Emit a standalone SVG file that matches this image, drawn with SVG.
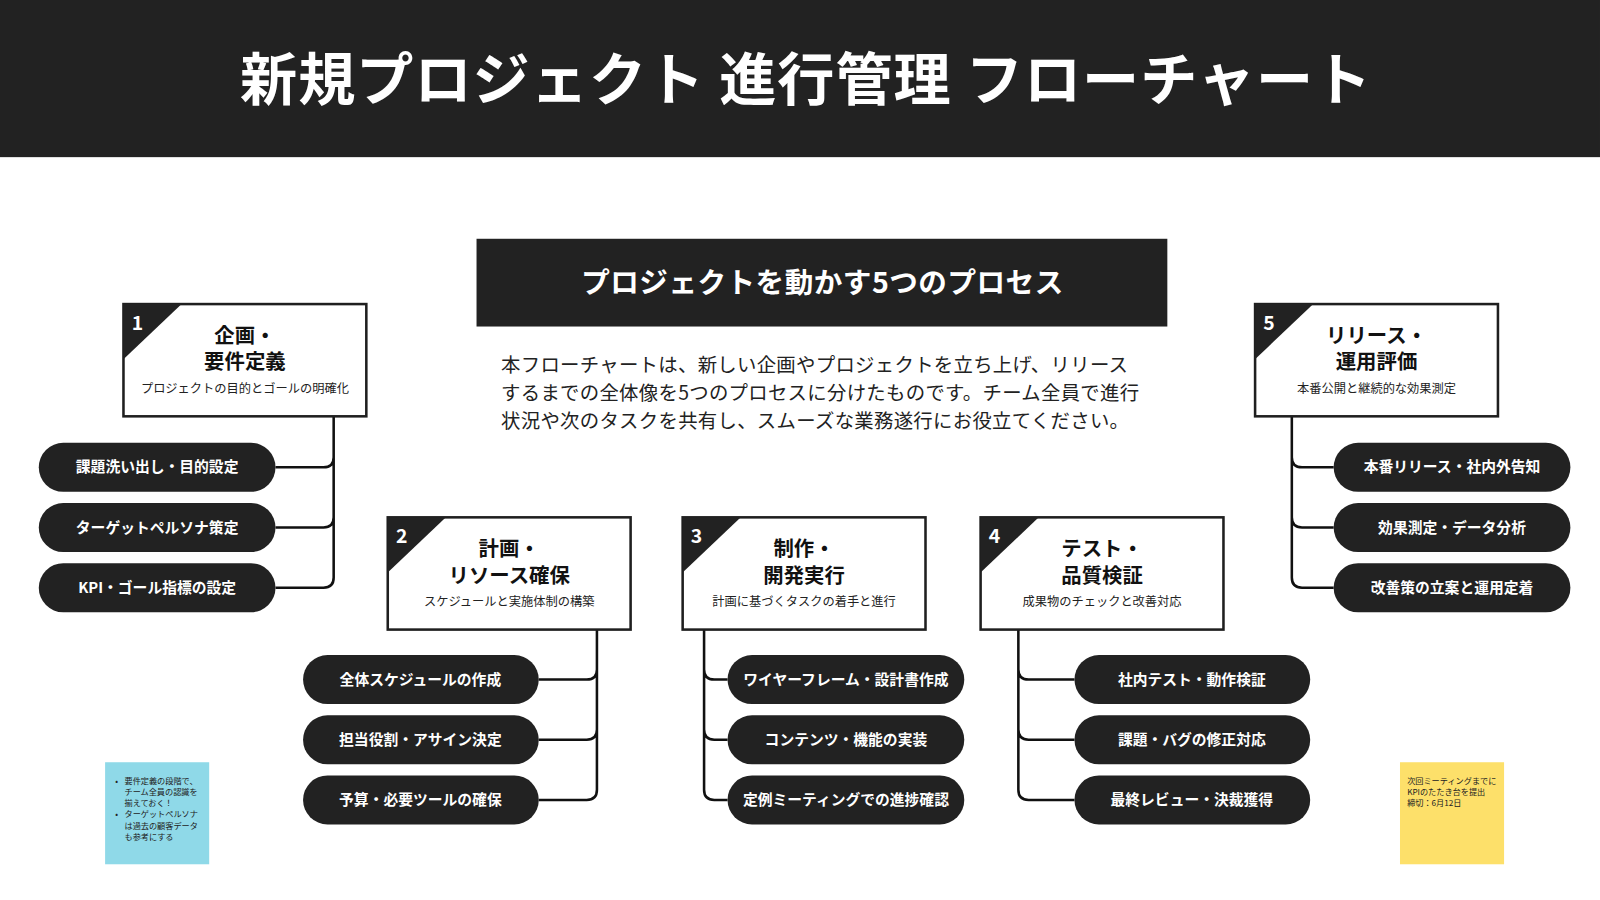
<svg xmlns="http://www.w3.org/2000/svg" width="1600" height="900" viewBox="0 0 1600 900">
<style>
text{font-family:"Noto Sans CJK JP","Noto Sans",sans-serif}
.box{fill:#fff;stroke:#1f1f1f;stroke-width:2.5}
.tri{fill:#222}
.num{fill:#fff;font-size:19px;font-weight:700}
.tt{fill:#111;font-size:20px;font-weight:700;text-anchor:middle}
.st{fill:#222;font-size:12px;text-anchor:middle}
.pill{fill:#222}
.pt{fill:#fff;font-size:14.5px;font-weight:700;text-anchor:middle}
.con path{fill:none;stroke:#111;stroke-width:2.5}
.note{font-size:8px;fill:#222}
</style>
<rect width="1600" height="900" fill="#fff"/>
<g transform="scale(1.0204)">
<g id="header"><rect x="0" y="0" width="1568" height="154" fill="#222"/>
<text x="790" y="98" text-anchor="middle" font-size="56" font-weight="700" letter-spacing="1" fill="#fff">新規プロジェクト 進行管理 フローチャート</text></g>
<g id="banner"><rect x="467" y="234" width="677" height="86" fill="#222"/>
<text x="806" y="287" text-anchor="middle" font-size="28" font-weight="700" letter-spacing="0.5" fill="#fff">プロジェクトを動かす5つのプロセス</text></g>
<g id="desc" font-size="19" letter-spacing="0.3" fill="#222">
<text x="491" y="365">本フローチャートは、新しい企画やプロジェクトを立ち上げ、リリース</text>
<text x="491" y="392">するまでの全体像を5つのプロセスに分けたものです。チーム全員で進行</text>
<text x="491" y="419">状況や次のタスクを共有し、スムーズな業務遂行にお役立てください。</text></g>
<g class="con" id="connectors">
<path d="M327 408V448Q327 458 317 458H270M327 448V507Q327 517 317 517H270M327 507V566Q327 576 317 576H270"/>
<path d="M585 617V656Q585 666 575 666H528M585 656V715Q585 725 575 725H528M585 715V774Q585 784 575 784H528"/>
<path d="M690 617V656Q690 666 700 666H713M690 656V715Q690 725 700 725H713M690 715V774Q690 784 700 784H713"/>
<path d="M998 617V656Q998 666 1008 666H1053M998 656V715Q998 725 1008 725H1053M998 715V774Q998 784 1008 784H1053"/>
<path d="M1266 408V448Q1266 458 1276 458H1307M1266 448V507Q1266 517 1276 517H1307M1266 507V566Q1266 576 1276 576H1307"/>
</g>
<g id="node1"><rect class="box" x="121" y="298" width="238" height="110"/><path class="tri" d="M121 298H178L121 352Z"/><text class="num" x="129" y="323">1</text>
<text class="tt" x="240" y="336">企画・</text><text class="tt" x="240" y="362">要件定義</text><text class="st" x="240" y="385">プロジェクトの目的とゴールの明確化</text></g>
<g id="node2"><rect class="box" x="380" y="507" width="238" height="110"/><path class="tri" d="M380 507H437L380 561Z"/><text class="num" x="388" y="532">2</text>
<text class="tt" x="499" y="545">計画・</text><text class="tt" x="499" y="571">リソース確保</text><text class="st" x="499" y="594">スケジュールと実施体制の構築</text></g>
<g id="node3"><rect class="box" x="669" y="507" width="238" height="110"/><path class="tri" d="M669 507H726L669 561Z"/><text class="num" x="677" y="532">3</text>
<text class="tt" x="788" y="545">制作・</text><text class="tt" x="788" y="571">開発実行</text><text class="st" x="788" y="594">計画に基づくタスクの着手と進行</text></g>
<g id="node4"><rect class="box" x="961" y="507" width="238" height="110"/><path class="tri" d="M961 507H1018L961 561Z"/><text class="num" x="969" y="532">4</text>
<text class="tt" x="1080" y="545">テスト・</text><text class="tt" x="1080" y="571">品質検証</text><text class="st" x="1080" y="594">成果物のチェックと改善対応</text></g>
<g id="node5"><rect class="box" x="1230" y="298" width="238" height="110"/><path class="tri" d="M1230 298H1287L1230 352Z"/><text class="num" x="1238" y="323">5</text>
<text class="tt" x="1349" y="336">リリース・</text><text class="tt" x="1349" y="362">運用評価</text><text class="st" x="1349" y="385">本番公開と継続的な効果測定</text></g>
<g id="pills1"><rect class="pill" x="38" y="434" width="232" height="48" rx="24"/><text class="pt" x="154" y="463">課題洗い出し・目的設定</text>
<rect class="pill" x="38" y="493" width="232" height="48" rx="24"/><text class="pt" x="154" y="522">ターゲットペルソナ策定</text>
<rect class="pill" x="38" y="552" width="232" height="48" rx="24"/><text class="pt" x="154" y="581">KPI・ゴール指標の設定</text></g>
<g id="pills2"><rect class="pill" x="297" y="642" width="231" height="48" rx="24"/><text class="pt" x="412" y="671">全体スケジュールの作成</text>
<rect class="pill" x="297" y="701" width="231" height="48" rx="24"/><text class="pt" x="412" y="730">担当役割・アサイン決定</text>
<rect class="pill" x="297" y="760" width="231" height="48" rx="24"/><text class="pt" x="412" y="789">予算・必要ツールの確保</text></g>
<g id="pills3"><rect class="pill" x="713" y="642" width="232" height="48" rx="24"/><text class="pt" x="829" y="671">ワイヤーフレーム・設計書作成</text>
<rect class="pill" x="713" y="701" width="232" height="48" rx="24"/><text class="pt" x="829" y="730">コンテンツ・機能の実装</text>
<rect class="pill" x="713" y="760" width="232" height="48" rx="24"/><text class="pt" x="829" y="789">定例ミーティングでの進捗確認</text></g>
<g id="pills4"><rect class="pill" x="1053" y="642" width="231" height="48" rx="24"/><text class="pt" x="1168" y="671">社内テスト・動作検証</text>
<rect class="pill" x="1053" y="701" width="231" height="48" rx="24"/><text class="pt" x="1168" y="730">課題・バグの修正対応</text>
<rect class="pill" x="1053" y="760" width="231" height="48" rx="24"/><text class="pt" x="1168" y="789">最終レビュー・決裁獲得</text></g>
<g id="pills5"><rect class="pill" x="1307" y="434" width="232" height="48" rx="24"/><text class="pt" x="1423" y="463">本番リリース・社内外告知</text>
<rect class="pill" x="1307" y="493" width="232" height="48" rx="24"/><text class="pt" x="1423" y="522">効果測定・データ分析</text>
<rect class="pill" x="1307" y="552" width="232" height="48" rx="24"/><text class="pt" x="1423" y="581">改善策の立案と運用定着</text></g>
<g id="note1"><rect x="103" y="747" width="102" height="100" fill="#8fd9e8"/>
<g class="note"><text x="113" y="768">•</text><text x="122" y="768">要件定義の段階で、</text><text x="122" y="779">チーム全員の認識を</text><text x="122" y="790">揃えておく！</text>
<text x="113" y="801">•</text><text x="122" y="801">ターゲットペルソナ</text><text x="122" y="812">は過去の顧客データ</text><text x="122" y="823">も参考にする</text></g></g>
<g id="note2"><rect x="1372" y="747" width="102" height="100" fill="#fde06a"/>
<g class="note"><text x="1379" y="768">次回ミーティングまでに</text><text x="1379" y="779">KPIのたたき台を提出</text><text x="1379" y="790">締切：6月12日</text></g></g>
</g>
</svg>
